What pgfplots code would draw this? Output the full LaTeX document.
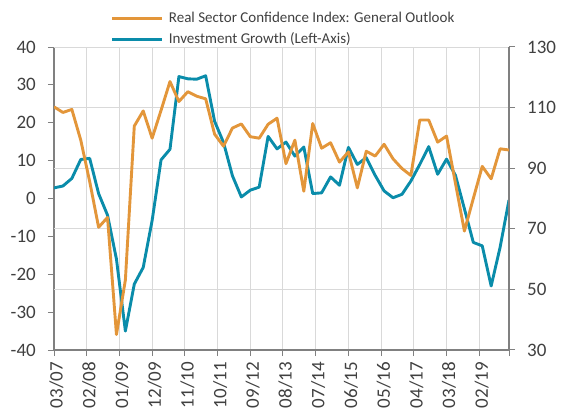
\documentclass[border=0pt]{standalone}
\usepackage{fontspec}
\setmainfont{Carlito}
\usepackage{pgfplots}
\usepackage{pgfplotstable}
\pgfplotsset{compat=1.18}
\definecolor{orangeL}{HTML}{E3963A}
\definecolor{blueL}{HTML}{0A8CAA}
\definecolor{gridc}{HTML}{D9D9D9}
\definecolor{axisc}{HTML}{808080}
\definecolor{textc}{HTML}{404040}

\pgfplotstableread{
m inv
0 2.8
3 3.3
6 5.3
9 10.3
12 10.6
15 1.3
18 -4.4
21 -16.0
24 -35.0
27 -22.6
30 -18.2
33 -5.8
36 10.2
39 13.0
42 32.2
45 31.6
48 31.5
51 32.4
54 20.4
57 14.8
60 6.0
63 0.4
66 2.2
69 3.0
72 16.4
75 13.1
78 14.9
81 11.2
84 13.6
87 1.3
90 1.5
93 5.7
96 3.5
99 13.5
102 9.0
105 10.8
108 6.1
111 2.0
114 0.2
117 1.1
120 4.6
123 9.0
126 13.7
129 6.4
132 10.4
135 6.1
138 -2.7
141 -11.6
144 -12.5
147 -23.1
150 -12.9
153 -0.4
}\invdata

\pgfplotstableread{
m rsci
0 110.25
3 108.4
6 109.4
9 99.25
12 85.6
15 70.5
18 73.75
21 35.1
24 53.1
27 103.9
30 108.9
33 99.9
36 109.1
39 118.6
42 112.0
45 115.25
48 113.75
51 112.9
54 101.25
57 97.25
60 103.25
63 104.6
66 100.4
69 99.9
72 104.5
75 106.5
78 91.5
81 99.25
84 82.4
87 104.75
90 96.6
93 98.4
96 92.0
99 95.4
102 83.5
105 95.6
108 94.0
111 97.9
114 93.1
117 89.9
120 87.6
123 105.9
126 105.9
129 98.6
132 100.6
135 85.0
138 69.25
141 80.0
144 90.6
147 86.5
150 96.4
153 96.0
}\rscidata

\pgfplotsset{
  common/.style={
    at={(0pt,0pt)}, anchor=south west,
    scale only axis, width=455pt, height=303pt,
    xmin=0, xmax=153,
    tick align=outside, major tick length=6pt,
    tick style={axisc, line width=1pt},
    axis line style={axisc, line width=1.3pt},
    ticklabel style={font=\fontsize{19}{19}\selectfont, text=textc},
    /pgf/number format/assume math mode=true,
  }
}

\begin{document}
\begin{tikzpicture}
\begin{axis}[
  common,
  ymin=-40, ymax=40,
  axis x line*=bottom, axis y line*=left,
  xtick={0,11,22,33,44,55,66,77,88,99,110,121,132,143,153},
  xticklabels={03/07,02/08,01/09,12/09,11/10,10/11,09/12,08/13,07/14,06/15,05/16,04/17,03/18,02/19,{}},
  xticklabel style={xshift=2.5pt, rotate=90, anchor=east, inner xsep=6pt},
  xmajorgrids,
  grid style={gridc, line width=1pt},
  ytick={-40,-30,...,40},
  yticklabel style={inner xsep=12pt},
  extra y ticks={-24,-8,8,24,40},
  extra y tick labels={},
  extra y tick style={grid=major, major tick length=0pt},
]
\addplot[blueL, line width=2.9pt, line join=round, no markers] table[x=m, y=inv] {\invdata};
\end{axis}
\begin{axis}[
  common,
  ymin=30, ymax=130,
  axis x line=none, axis y line*=right,
  ytick={30,50,...,130},
  yticklabel style={inner xsep=12pt},
  legend cell align=left,
  legend image code/.code={\draw[#1] (0pt,0pt) -- (50pt,0pt);},
  legend style={at={(axis description cs:0.1253,1.060)}, anchor=west,
    draw=none, fill=none, inner sep=0pt, outer sep=0pt,
    row sep=7.5pt, column sep=5pt,
    font=\fontsize{15}{15}\selectfont, text=textc,
    nodes={inner sep=0pt, text height=10.5pt, text depth=3pt}},
]
\addplot[orangeL, line width=2.9pt, line join=round, no markers] table[x=m, y=rsci] {\rscidata};
\addlegendentry{Real Sector Confidence Index: General Outlook}
\addlegendimage{blueL, line width=2.9pt}
\addlegendentry{Investment Growth (Left-Axis)}
\end{axis}
\pgfresetboundingbox
\path (-54pt,-64pt) rectangle (510pt,350pt);
\end{tikzpicture}
\end{document}
